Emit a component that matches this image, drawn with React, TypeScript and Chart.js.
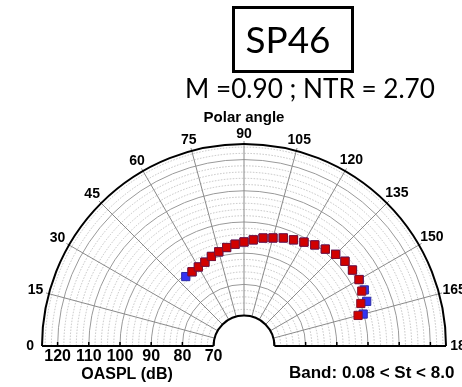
import React, { useEffect, useRef } from "react";
import { Chart, registerables } from "chart.js";

Chart.register(...registerables);

// ---- data (polar angle in degrees, OASPL in dB) ----
const redAngles = [55, 60, 65, 70, 75, 80, 85, 90, 95, 100, 105, 110, 115, 120, 125, 130, 135, 140, 145, 150, 155, 160, 165];
const redOaspl = [89.3, 89.5, 89.9, 90.8, 91.5, 92.3, 93.0, 93.6, 94.4, 95.4, 96.1, 97.1, 97.8, 98.7, 99.8, 100.8, 101.8, 102.5, 102.7, 102.8, 101.9, 100.1, 98.1];
const blueAngles = [50, 55, 60, 65, 70, 75, 80, 85, 90, 95, 100, 105, 110, 115, 120, 125, 130, 135, 140, 145, 150, 155, 160, 165];
const blueOaspl = [89.3, 89.3, 89.5, 89.9, 90.8, 91.5, 92.3, 93.0, 93.6, 94.4, 95.4, 96.1, 97.1, 97.8, 98.7, 99.8, 100.8, 101.8, 102.5, 102.7, 102.9, 102.8, 102.1, 99.8];
const angleTicks = [0, 15, 30, 45, 60, 75, 90, 105, 120, 135, 150, 165, 180];
const oasplTicks = [120, 110, 100, 90, 80, 70];
const OASPL_MIN = 70;
const OASPL_MAX = 125;
const HOLE = 9.75; // inner hole radius, in dB units

const titleText = "SP46";
const subtitleText = "M =0.90 ; NTR = 2.70";
const angleAxisTitle = "Polar angle";
const radialAxisTitle = "OASPL (dB)";
const bandText = "Band: 0.08 < St < 8.0";

const R = OASPL_MAX - OASPL_MIN + HOLE;

function toXY(angle: number, db: number) {
  const u = db - OASPL_MIN + HOLE;
  const t = (angle * Math.PI) / 180;
  return { x: -u * Math.cos(t), y: u * Math.sin(t) };
}

function fitFont(ctx: CanvasRenderingContext2D, text: string, width: number, weight: string, family: string) {
  ctx.font = `${weight} 100px ${family}`;
  const w = ctx.measureText(text).width;
  return (100 * width) / w;
}

const polarGrid = {
  id: "polarGrid",
  beforeDatasetsDraw(chart: any) {
    const { ctx } = chart;
    const xs = chart.scales.x;
    const ys = chart.scales.y;
    const cx = xs.getPixelForValue(0);
    const cy = ys.getPixelForValue(0);
    const rad = (db: number) => xs.getPixelForValue(db - OASPL_MIN + HOLE) - cx;
    const rIn = rad(OASPL_MIN);
    const rOut = rad(OASPL_MAX);
    ctx.save();
    // dotted minor arcs
    ctx.strokeStyle = "#b5b5b5";
    ctx.lineWidth = 0.8;
    ctx.setLineDash([1.5, 1.5]);
    for (let db = OASPL_MIN + 2; db < OASPL_MAX; db += 2) {
      if (db % 10 === 0) continue;
      ctx.beginPath();
      ctx.arc(cx, cy, rad(db), Math.PI, 2 * Math.PI);
      ctx.stroke();
    }
    ctx.setLineDash([]);
    // solid major arcs
    ctx.strokeStyle = "#999";
    ctx.lineWidth = 1;
    for (const db of oasplTicks) {
      if (db <= OASPL_MIN) continue;
      ctx.beginPath();
      ctx.arc(cx, cy, rad(db), Math.PI, 2 * Math.PI);
      ctx.stroke();
    }
    // spokes
    ctx.strokeStyle = "#8a8a8a";
    for (const a of angleTicks) {
      if (a === 0 || a === 180) continue;
      const t = (a * Math.PI) / 180;
      ctx.beginPath();
      ctx.moveTo(cx - rIn * Math.cos(t), cy - rIn * Math.sin(t));
      ctx.lineTo(cx - (rOut + 3) * Math.cos(t), cy - (rOut + 3) * Math.sin(t));
      ctx.stroke();
    }
    // frame
    ctx.strokeStyle = "#000";
    ctx.lineWidth = 2;
    ctx.beginPath();
    ctx.arc(cx, cy, rOut, Math.PI, 2 * Math.PI);
    ctx.stroke();
    ctx.beginPath();
    ctx.arc(cx, cy, rIn, Math.PI, 2 * Math.PI);
    ctx.stroke();
    ctx.beginPath();
    ctx.moveTo(cx - rOut, cy);
    ctx.lineTo(cx - rIn, cy);
    ctx.moveTo(cx + rIn, cy);
    ctx.lineTo(cx + rOut, cy);
    ctx.stroke();
    // baseline ticks
    ctx.lineWidth = 1.5;
    for (const db of oasplTicks) {
      const r = rad(db);
      ctx.beginPath();
      ctx.moveTo(cx - r, cy);
      ctx.lineTo(cx - r, cy - 4);
      ctx.moveTo(cx + r, cy);
      ctx.lineTo(cx + r, cy - 4);
      ctx.stroke();
    }
    ctx.restore();
  },
  afterDraw(chart: any) {
    const { ctx } = chart;
    const xs = chart.scales.x;
    const ys = chart.scales.y;
    const cx = xs.getPixelForValue(0);
    const cy = ys.getPixelForValue(0);
    const rad = (db: number) => xs.getPixelForValue(db - OASPL_MIN + HOLE) - cx;
    const rOut = rad(OASPL_MAX);
    ctx.save();
    ctx.fillStyle = "#000";
    ctx.textAlign = "center";
    ctx.textBaseline = "middle";
    // angle labels
    ctx.font = "bold 14px 'Liberation Sans', Arial, sans-serif";
    for (const a of angleTicks) {
      const t = (a * Math.PI) / 180;
      const w = ctx.measureText(String(a)).width;
      const rr = rOut + 10 + 0.25 * w * Math.abs(Math.cos(t));
      ctx.fillText(String(a), cx - rr * Math.cos(t), cy - rr * Math.sin(t));
    }
    // OASPL labels
    ctx.font = "bold 16px 'Liberation Sans', Arial, sans-serif";
    for (const db of oasplTicks) {
      ctx.fillText(String(db), cx - rad(db), cy + 11);
    }
    ctx.fillText(radialAxisTitle, 127, 375);
    ctx.font = "bold 15px 'Liberation Sans', Arial, sans-serif";
    ctx.fillText(angleAxisTitle, cx, 118);
    ctx.font = "bold 17px 'Liberation Sans', Arial, sans-serif";
    ctx.textAlign = "left";
    ctx.fillText(bandText, 289, 373);
    // title box
    ctx.textAlign = "center";
    ctx.lineWidth = 3;
    ctx.strokeStyle = "#000";
    ctx.strokeRect(233.5, 7.5, 119, 64);
    const fam = "Lato, 'Open Sans', sans-serif";
    const s1 = fitFont(ctx, titleText, 85, "normal", fam);
    ctx.font = `normal ${s1}px ${fam}`;
    ctx.fillText(titleText, 288, 41);
    const s2 = fitFont(ctx, subtitleText, 250, "normal", fam);
    ctx.font = `normal ${s2}px ${fam}`;
    ctx.fillText(subtitleText, 310, 90);
    ctx.restore();
  },
};

export default function App() {
  const ref = useRef<HTMLCanvasElement | null>(null);
  useEffect(() => {
    if (!ref.current) return;
    const chart = new Chart(ref.current, {
      type: "scatter",
      data: {
        datasets: [
          {
            label: "red",
            data: redAngles.map((a, i) => toXY(a, redOaspl[i])),
            pointStyle: "rect",
            pointRadius: 5.8,
            backgroundColor: "#d20000",
            borderColor: "#80102e",
            borderWidth: 1,
            clip: false,
          },
          {
            label: "blue",
            data: blueAngles.map((a, i) => toXY(a, blueOaspl[i])),
            pointStyle: "rect",
            pointRadius: 5.8,
            backgroundColor: "#3434f2",
            borderColor: "#2a2aa8",
            borderWidth: 1,
            clip: false,
          },
        ],
      },
      options: {
        responsive: false,
        animation: false,
        events: [],
        layout: { padding: { left: 42, right: 16, top: 144, bottom: 41 } },
        plugins: { legend: { display: false }, tooltip: { enabled: false } },
        scales: {
          x: { type: "linear", min: -R, max: R, display: false },
          y: { type: "linear", min: 0, max: R, display: false },
        },
      },
      plugins: [polarGrid],
    });
    return () => chart.destroy();
  }, []);
  return (
    <canvas
      ref={ref}
      width={462}
      height={387}
      style={{ position: "absolute", left: 0, top: 0, width: 462, height: 387, background: "#fff" }}
    />
  );
}
